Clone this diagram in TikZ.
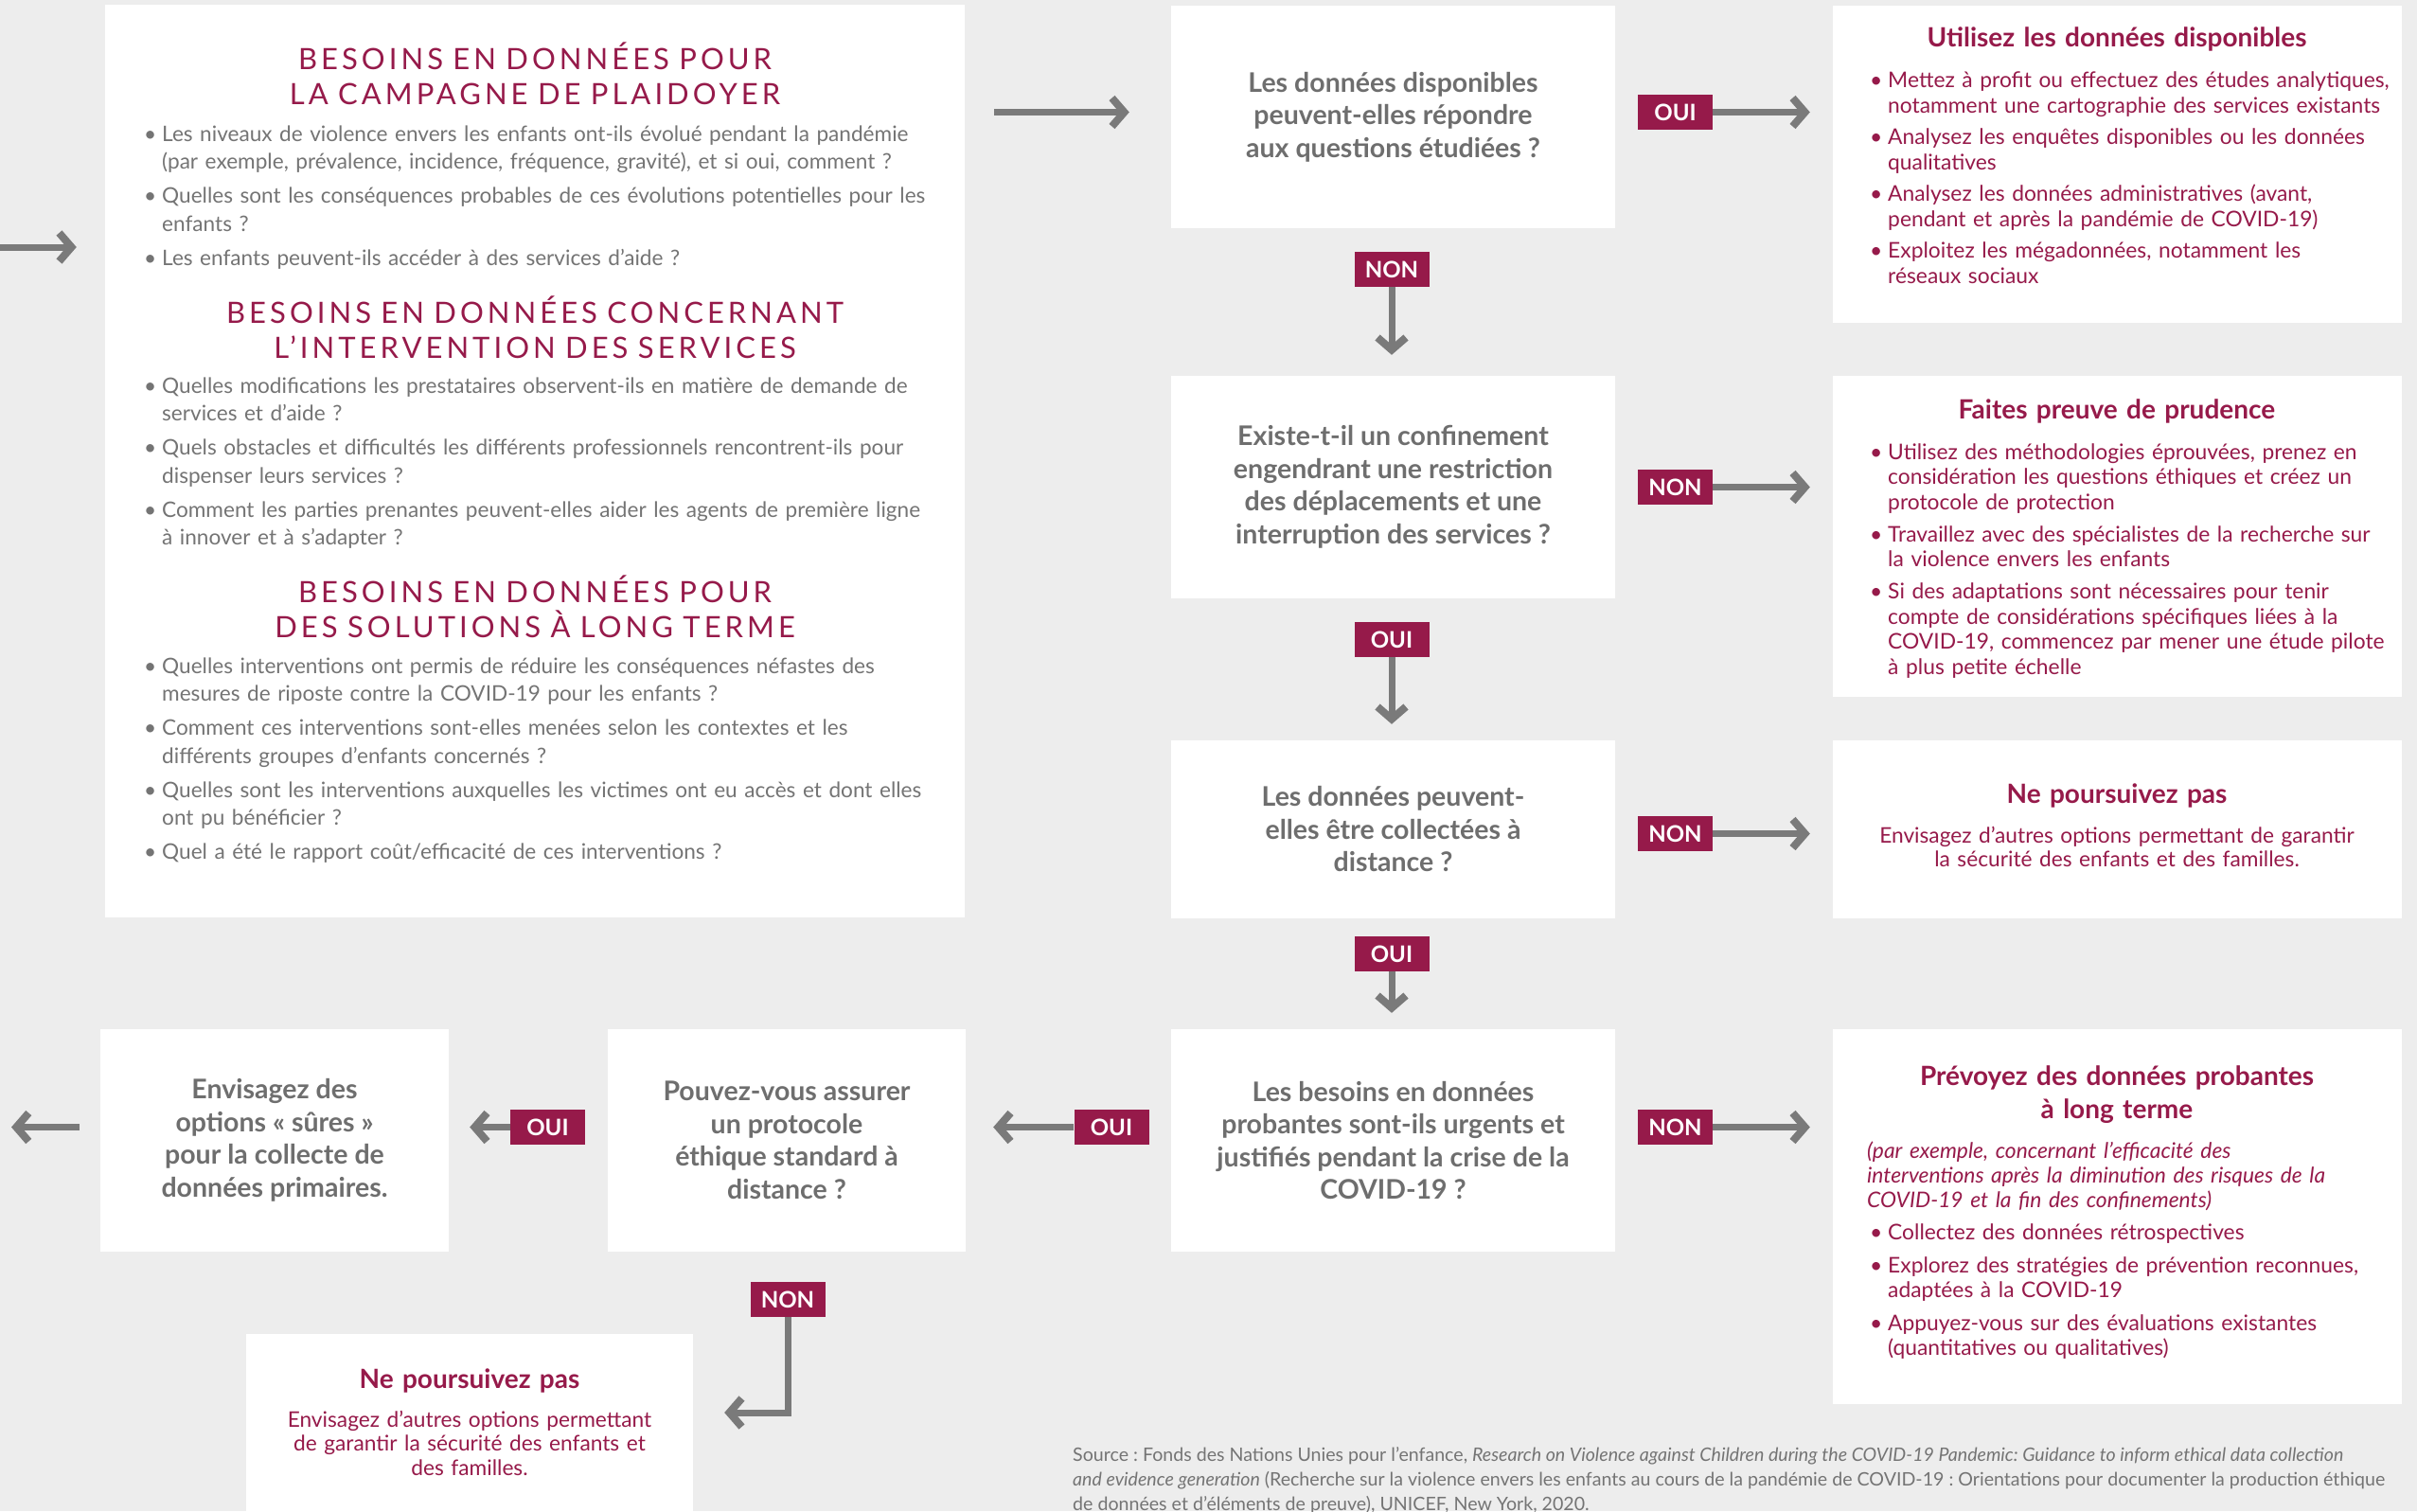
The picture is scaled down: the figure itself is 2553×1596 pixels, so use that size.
\documentclass[tikz,border=0pt]{standalone}
\usepackage{fontspec}
\setmainfont{Lato}
\usetikzlibrary{arrows.meta}
\definecolor{bgc}{HTML}{EDEDED}
\definecolor{mar}{HTML}{961A4A}
\definecolor{txg}{HTML}{747474}
\definecolor{qg}{HTML}{6E6E6E}
\definecolor{arg}{HTML}{7A7A7A}
\newlength\bhang
\newlength\bgap
\newcommand\bitem[1]{\hangindent=\bhang\hangafter=1\noindent\makebox[\bhang][l]{\textbullet}#1\par\vspace{\bgap}}
\frenchspacing
\begin{document}
\begin{tikzpicture}[x=1pt,y=-1pt,
  box/.style={fill=white,draw=none,inner sep=0pt},
  q/.style={text=qg,font=\bfseries\fontsize{28.5}{34.5}\selectfont,align=center},
  lbl/.style={fill=mar,text=white,font=\bfseries\fontsize{24}{24}\selectfont,minimum width=79pt,minimum height=37pt,inner sep=0pt},
  arr/.style={draw=arg,line width=7pt,-{Straight Barb[length=13pt,width=30pt,line width=8pt]}},
  ahead/.style={text=mar,font=\fontsize{31}{37}\selectfont\addfontfeatures{LetterSpace=13},text width=880pt,align=center,inner sep=0pt,anchor=base},
  abody/.style={text=txg,font=\fontsize{22.6}{29.5}\selectfont\setlength\bhang{19pt}\setlength\bgap{6.5pt},text width=850pt,align=left,inner sep=0pt,anchor=base west},
  rtitle/.style={text=mar,font=\bfseries\fontsize{28}{35}\selectfont,text width=580pt,align=center,inner sep=0pt,anchor=base},
  rbody/.style={text=mar,font=\fontsize{22.8}{27}\selectfont\setlength\bhang{19pt}\setlength\bgap{6pt},text width=560pt,align=left,inner sep=0pt,anchor=base west},
  rcenter/.style={text=mar,font=\fontsize{22.7}{25}\selectfont,text width=580pt,align=center,inner sep=0pt,anchor=base}
]
\fill[bgc] (0,0) rectangle (2553,1596);
\useasboundingbox (0,0) rectangle (2553,1596);

% boxes
\node[box,minimum width=908pt,minimum height=964pt] (A) at (565,487) {};
\node[box,q,minimum width=469pt,minimum height=235pt] (B) at (1471.5,123.5) {Les données disponibles\\peuvent-elles répondre\\aux questions étudiées ?};
\node[box,minimum width=601pt,minimum height=335pt] (C) at (2236.5,173.5) {};
\node[box,q,minimum width=469pt,minimum height=235pt] (D) at (1471.5,514.5) {Existe-t-il un confinement\\engendrant une restriction\\des déplacements et une\\interruption des services ?};
\node[box,minimum width=601pt,minimum height=339pt] (E) at (2236.5,566.5) {};
\node[box,q,minimum width=469pt,minimum height=188pt] (F) at (1471.5,876) {Les données peuvent-\\elles être collectées à\\distance ?};
\node[box,minimum width=601pt,minimum height=188pt] (G) at (2236.5,876) {};
\node[box,q,minimum width=469pt,minimum height=235pt] (H) at (1471.5,1204.5) {Les besoins en données\\probantes sont-ils urgents et\\justifiés pendant la crise de la\\COVID-19 ?};
\node[box,minimum width=601pt,minimum height=396pt] (I) at (2236.5,1285) {};
\node[box,q,minimum width=378pt,minimum height=235pt] (J) at (831,1204.5) {Pouvez-vous assurer\\un protocole\\éthique standard à\\distance ?};
\node[box,q,minimum width=368pt,minimum height=235pt] (K) at (290,1204.5) {Envisagez des\\options « sûres »\\pour la collecte de\\données primaires.};
\node[box,minimum width=472pt,minimum height=187pt] (L) at (496,1502.5) {};

% box A texts
\node[ahead] (a1) at (565,73) {BESOINS EN DONNÉES POUR\\LA CAMPAGNE DE PLAIDOYER};
\node[abody] (a1b) at (152,149) {\bitem{Les niveaux de violence envers les enfants ont-ils évolué pendant la pandémie\newline (par exemple, prévalence, incidence, fréquence, gravité), et si oui, comment ?}\bitem{Quelles sont les conséquences probables de ces évolutions potentielles pour les\newline enfants ?}\bitem{Les enfants peuvent-ils accéder à des services d’aide ?}};
\node[ahead] (a2) at (565,341) {BESOINS EN DONNÉES CONCERNANT\\L’INTERVENTION DES SERVICES};
\node[abody] (a2b) at (152,415) {\bitem{Quelles modifications les prestataires observent-ils en matière de demande de\newline services et d’aide ?}\bitem{Quels obstacles et difficultés les différents professionnels rencontrent-ils pour\newline dispenser leurs services ?}\bitem{Comment les parties prenantes peuvent-elles aider les agents de première ligne\newline à innover et à s’adapter ?}};
\node[ahead] (a3) at (565,636) {BESOINS EN DONNÉES POUR\\DES SOLUTIONS À LONG TERME};
\node[abody] (a3b) at (152,711) {\bitem{Quelles interventions ont permis de réduire les conséquences néfastes des\newline mesures de riposte contre la COVID-19 pour les enfants ?}\bitem{Comment ces interventions sont-elles menées selon les contextes et les\newline différents groupes d’enfants concernés ?}\bitem{Quelles sont les interventions auxquelles les victimes ont eu accès et dont elles\newline ont pu bénéficier ?}\bitem{Quel a été le rapport coût/efficacité de ces interventions ?}};

% box C
\node[rtitle] (c1) at (2236,49) {Utilisez les données disponibles};
\node[rbody] (c2) at (1975,92) {\bitem{Mettez à profit ou effectuez des études analytiques,\newline notamment une cartographie des services existants}\bitem{Analysez les enquêtes disponibles ou les données\newline qualitatives}\bitem{Analysez les données administratives (avant,\newline pendant et après la pandémie de COVID-19)}\bitem{Exploitez les mégadonnées, notamment les\newline réseaux sociaux}};

% box E
\node[rtitle] (e1) at (2236,442) {Faites preuve de prudence};
\node[rbody,font=\fontsize{22.8}{26.5}\selectfont\setlength\bhang{19pt}\setlength\bgap{7.5pt}] (e2) at (1975,485) {\bitem{Utilisez des méthodologies éprouvées, prenez en\newline considération les questions éthiques et créez un\newline protocole de protection}\bitem{Travaillez avec des spécialistes de la recherche sur\newline la violence envers les enfants}\bitem{Si des adaptations sont nécessaires pour tenir\newline compte de considérations spécifiques liées à la\newline COVID-19, commencez par mener une étude pilote\newline à plus petite échelle}};

% box G
\node[rtitle] (g1) at (2236,848) {Ne poursuivez pas};
\node[rcenter] (g2) at (2236,890) {Envisagez d’autres options permettant de garantir\\la sécurité des enfants et des familles.};

% box I
\node[rtitle] (i1) at (2236,1146) {Prévoyez des données probantes\\à long terme};
\node[rbody,font=\itshape\fontsize{22.8}{26}\selectfont] (i2) at (1972,1223) {(par exemple, concernant l’efficacité des\newline interventions après la diminution des risques de la\newline COVID-19 et la fin des confinements)};
\node[rbody,font=\fontsize{22.8}{26}\selectfont\setlength\bhang{19pt}\setlength\bgap{9pt}] (i3) at (1975,1309) {\bitem{Collectez des données rétrospectives}\bitem{Explorez des stratégies de prévention reconnues,\newline adaptées à la COVID-19}\bitem{Appuyez-vous sur des évaluations existantes\newline (quantitatives ou qualitatives)}};

% box L
\node[rtitle,text width=460pt] (l1) at (496,1466) {Ne poursuivez pas};
\node[rcenter,font=\fontsize{22.7}{25.5}\selectfont,text width=460pt] (l2) at (496,1507) {Envisagez d’autres options permettant\\de garantir la sécurité des enfants et\\des familles.};

% source
\node[text=txg,font=\fontsize{19.6}{26}\selectfont,align=left,inner sep=0pt,anchor=north west] (src) at (1133,1528) {Source : Fonds des Nations Unies pour l’enfance, \textit{Research on Violence against Children during the COVID-19 Pandemic: Guidance to inform ethical data collection}\\\textit{and evidence generation} (Recherche sur la violence envers les enfants au cours de la pandémie de COVID-19 : Orientations pour documenter la production éthique\\de données et d’éléments de preuve), UNICEF, New York, 2020.};

% labels
\node[lbl] (lBC) at (1769.5,118.5) {OUI};
\node[lbl] (lBD) at (1470,284.5) {NON};
\node[lbl] (lDE) at (1769.5,514.5) {NON};
\node[lbl] (lDF) at (1470,675.5) {OUI};
\node[lbl] (lFG) at (1769.5,880.5) {NON};
\node[lbl] (lFH) at (1470,1007.5) {OUI};
\node[lbl] (lHI) at (1769.5,1190.5) {NON};
\node[lbl] (lHJ) at (1174,1190.5) {OUI};
\node[lbl] (lJK) at (578.5,1190.5) {OUI};
\node[lbl] (lJL) at (832,1372.5) {NON};

\coordinate (in) at (0,261);
\coordinate (out) at (12,1190.5);

% connectors
\draw[arr,shorten >=30pt] (in) -- (in -| A.west);
\draw[arr,shorten <=31pt,shorten >=44pt] (A.east |- lBC) -- (B.west |- lBC);
\draw[arr,shorten >=24pt] (lBC.east) -- (lBC -| C.west);
\draw[arr,shorten >=22pt] (lBD.south) -- (lBD |- D.north);
\draw[arr,shorten >=24pt] (lDE.east) -- (lDE -| E.west);
\draw[arr,shorten >=17pt] (lDF.south) -- (lDF |- F.north);
\draw[arr,shorten >=24pt] (lFG.east) -- (lFG -| G.west);
\draw[arr,shorten >=17pt] (lFH.south) -- (lFH |- H.north);
\draw[arr,shorten >=24pt] (lHI.east) -- (lHI -| I.west);
\draw[arr,shorten >=29pt] (lHJ.west) -- (lHJ -| J.east);
\draw[arr,shorten >=22pt] (lJK.west) -- (lJK -| K.east);
\draw[arr,shorten <=22pt] (K.west |- out) -- (out);
\draw[arr,shorten >=33pt] (lJL.south) |- ([yshift=10.5pt]L.east);
\end{tikzpicture}
\end{document}
